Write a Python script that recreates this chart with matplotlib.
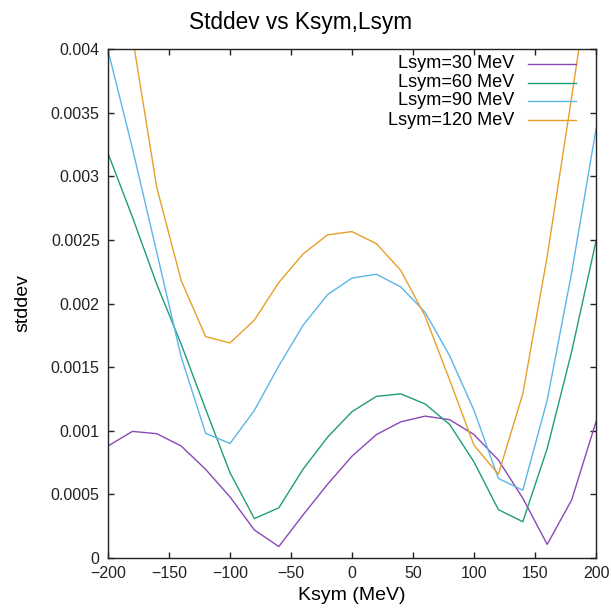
import numpy as np
import matplotlib
matplotlib.use("Agg")
import matplotlib.pyplot as plt
import matplotlib.ticker as ticker

plt.rcParams['font.family'] = ['Liberation Sans', 'DejaVu Sans']

# Ksym grid (MeV)
ksym = [-200, -180, -160, -140, -120, -100, -80, -60, -40, -20, 0,
        20, 40, 60, 80, 100, 120, 140, 160, 180, 200]

# stddev for each Lsym
lsym30 = [0.00088, 0.000995, 0.000977, 0.00088, 0.000697, 0.00048, 0.00022, 0.00009,
          0.00034, 0.00058, 0.0008, 0.00097, 0.00107, 0.001115, 0.001087, 0.00097,
          0.00077, 0.00047, 0.000107, 0.000455, 0.00107]
lsym60 = [0.00318, 0.00268, 0.00215, 0.00168, 0.00117, 0.00067, 0.00031, 0.000394,
          0.0007, 0.00095, 0.00115, 0.00127, 0.00129, 0.00121, 0.00105, 0.000755,
          0.00038, 0.000285, 0.00086, 0.00162, 0.00249]
lsym90 = [0.00399, 0.00322, 0.0024, 0.00158, 0.00098, 0.0009, 0.00116, 0.00151,
          0.00183, 0.00207, 0.0022, 0.00223, 0.00213, 0.00193, 0.00159, 0.00116,
          0.000625, 0.000533, 0.00124, 0.00224, 0.00337]
lsym120 = [0.0052, 0.0041, 0.00291, 0.00218, 0.00174, 0.00169, 0.00187, 0.002165,
           0.00239, 0.00254, 0.002565, 0.00247, 0.00226, 0.0019, 0.0014, 0.000886,
           0.000658, 0.00129, 0.00237, 0.00362, 0.0049]

labels = ["Lsym=30 MeV", "Lsym=60 MeV", "Lsym=90 MeV", "Lsym=120 MeV"]
colors = ["#8a48b4", "#1f9e73", "#5cb6e6", "#e6a028"]
series = [lsym30, lsym60, lsym90, lsym120]

fig = plt.figure(figsize=(6.11, 6.12), dpi=100)
ax = fig.add_axes([108 / 611, 1 - 558 / 612, 488 / 611, 509 / 612])

for y, c in zip(series, colors):
    ax.plot(ksym, y, color=c, lw=1.0, clip_on=True)

ax.set_xlim(-200, 200)
ax.set_ylim(0, 0.004)
ax.xaxis.set_major_locator(ticker.MultipleLocator(50))
ax.yaxis.set_major_locator(ticker.MultipleLocator(0.0005))
ax.yaxis.set_major_formatter(ticker.FuncFormatter(lambda v, p: f"{v:g}" if v != 0 else "0"))
ax.tick_params(direction='in', top=True, right=True, length=4, width=1,
               labelsize=11.5, pad=6, colors='#222222')
for s in ax.spines.values():
    s.set_linewidth(1.0)
    s.set_color('#222222')

ax.set_xlabel("Ksym (MeV)", fontsize=14, labelpad=4)
ax.set_ylabel("stddev", fontsize=14, labelpad=14)
fig.text(301 / 611, 1 - 22 / 612, "Stddev vs Ksym,Lsym", fontsize=16.3,
         ha='center', va='center')

# legend (gnuplot style: right-aligned text, sample line after it)
rows = [0.971, 0.934, 0.898, 0.860]
for lab, c, ry in zip(labels, colors, rows):
    ax.text(0.832, ry, lab, transform=ax.transAxes, ha='right', va='center', fontsize=13.1)
    ax.plot([0.861, 0.959], [ry, ry], transform=ax.transAxes, color=c, lw=1.0)

fig.savefig("out.png", dpi=100)
